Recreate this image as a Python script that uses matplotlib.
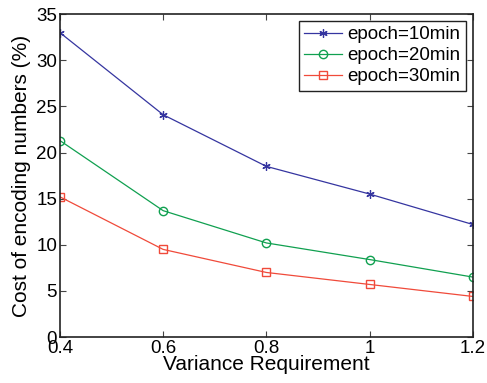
import matplotlib
matplotlib.use("Agg")
import matplotlib.pyplot as plt

plt.rcParams['font.family'] = ['Liberation Sans', 'DejaVu Sans']

x = [0.4, 0.6, 0.8, 1.0, 1.2]
epoch10 = [33.0, 24.1, 18.5, 15.5, 12.2]
epoch20 = [21.3, 13.7, 10.2, 8.4, 6.5]
epoch30 = [15.2, 9.5, 7.0, 5.7, 4.4]
xticks = [0.4, 0.6, 0.8, 1.0, 1.2]
xticklabels = ['0.4', '0.6', '0.8', '1', '1.2']
yticks = [0, 5, 10, 15, 20, 25, 30, 35]

fig = plt.figure(figsize=(4.87, 3.83), dpi=100)
ax = fig.add_axes([0.123, 0.120, 0.848, 0.843])

ax.plot(x, epoch10, color='#3535a0', marker=(6, 2, 0), markersize=6, mew=0.9, lw=0.9, label='epoch=10min')
ax.plot(x, epoch20, color='#10a050', marker='o', markersize=6, mfc='none', lw=0.9, label='epoch=20min')
ax.plot(x, epoch30, color='#f04a3a', marker='s', markersize=6, mfc='none', lw=0.9, label='epoch=30min')

ax.set_xlim(0.4, 1.2)
ax.set_ylim(0, 35)
ax.set_xticks(xticks)
ax.set_xticklabels(xticklabels)
ax.set_yticks(yticks)
ax.tick_params(direction='in', labelsize=13.5, top=True, right=True, length=4, color='#444444', pad=2)
for s in ax.spines.values():
    s.set_linewidth(1.2)
    s.set_color('#222222')

ax.set_xlabel('Variance Requirement', fontsize=15, labelpad=-1)
ax.set_ylabel('Cost of encoding numbers (%)', fontsize=15, labelpad=4)

leg = ax.legend(loc='upper right', fontsize=13.5, fancybox=False, framealpha=1,
                edgecolor='#222222', borderaxespad=0.35, handlelength=2.0,
                handletextpad=0.3, labelspacing=0.2, borderpad=0.3)
leg.get_frame().set_linewidth(1.0)

fig.savefig('out.png', dpi=100)
